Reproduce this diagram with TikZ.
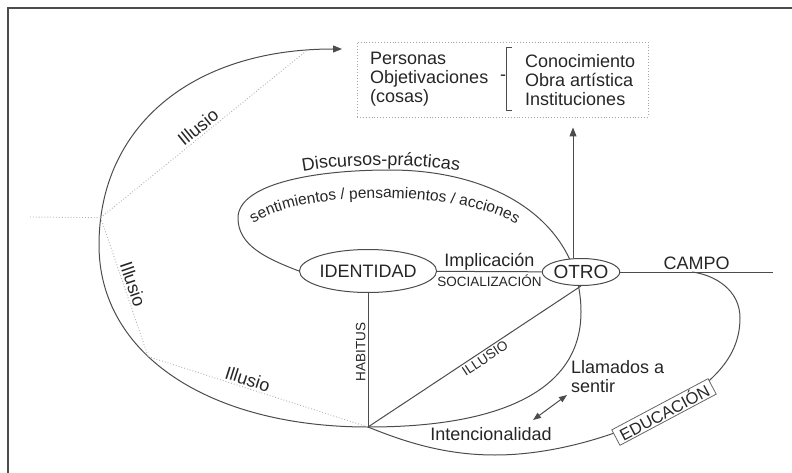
\documentclass[tikz,border=0pt]{standalone}
\usepackage{fontspec}
\setmainfont{Liberation Sans}
\usetikzlibrary{arrows.meta, shapes, decorations.text, backgrounds, positioning}

\begin{document}
\begin{tikzpicture}[x=1pt, y=-1pt,
    ln/.style={draw=black!70, line width=1pt},
    dot/.style={draw=black!30, dotted, line width=0.9pt},
    txt/.style={font=\fontsize{18}{19}\selectfont, text=black!85, inner sep=2pt},
    small/.style={font=\fontsize{13.5}{14}\selectfont, text=black!85, inner sep=2pt},
    oval/.style={ellipse, draw=black!70, line width=1pt, fill=white, inner sep=0pt, text=black!85},
    >={Triangle[length=9pt, width=7pt]}]
\useasboundingbox (0,0) rectangle (792,473);
\draw[black!70, line width=1.2pt] (8,473) -- (8,8) -- (792,8);

\node[oval, minimum width=127, minimum height=43, font=\fontsize{18}{19}\selectfont] (ident) at (368,271) {IDENTIDAD};
\node[oval, minimum width=75, minimum height=27, font=\fontsize{19}{20}\selectfont] (otro) at (581,272) {OTRO};
\node[draw=black!35, dotted, line width=0.9pt, minimum width=291, minimum height=75] (box) at (502.5,79.5) {};
\node[txt, align=left, anchor=west] (objs) at (368,79) {Personas\\Objetivaciones\\(cosas)};
\node[txt] (dash) at (503,78) {-};
\node[txt, align=left, anchor=west] (know) at (523,80) {Conocimiento\\Obra artística\\Instituciones};
\draw[black!70, line width=0.8pt] (512,47) -- (506,47) -- (506,110) -- (512,110);
\node[draw=black!60, line width=0.8pt, fill=white, rotate=28, font=\fontsize{16.5}{17}\selectfont, text=black!85, inner xsep=5pt, inner ysep=1.5pt] (edu) at (664,412) {EDUCACIÓN};
\node[txt, align=left, anchor=west] (llam) at (569,377) {Llamados a\\sentir};
\node[txt] (int) at (491,434) {Intencionalidad};

\coordinate (b) at (368,427);
\coordinate (tip) at (342,49);
\coordinate (lft) at (30,217);
\coordinate (campoend) at (773,272);
\coordinate (up) at ([xshift=-8pt]otro.north);
\coordinate (ia) at (533,420);
\coordinate (ib) at (567,395);

\draw[ln] (ident) -- node[txt, above, inner sep=1pt] {Implicación} node[small, below, inner sep=2.5pt] {SOCIALIZACIÓN} (otro);
\draw[ln] (otro) -- node[txt, above] {CAMPO} coordinate[pos=0.47] (cp) (campoend);
\draw[ln] (b) -- node[small, sloped, above, pos=0.56] {HABITUS} (ident);
\draw[ln] (b) -- node[small, sloped, below, pos=0.53] {ILLUSIO} (otro.south);
\draw[ln, ->, shorten >=10pt] (up) -- (up |- box.south);
\draw[ln, <->, >={Triangle[length=8pt, width=6pt]}] (ia) -- (ib);

\begin{scope}[on background layer]
\draw[ln] (ident.west) .. controls (265,258) and (238,245) .. (238,218)
  .. controls (238,185) and (310,170) .. (390,170)
  .. controls (500,170) and (581,225) .. (581,312)
  .. controls (581,420) and (430,427) .. (b);
\draw[ln, ->] (b) .. controls (210,427) and (99,355) .. coordinate[pos=0.6] (i2) (99,245)
  .. controls (99,128) and (190,49) .. coordinate[pos=0.08] (i1) coordinate[pos=0.92] (i3) (tip);
\draw[ln] (b) .. controls (405,442) and (445,455) .. (495,455)
  .. controls (550,455) and (612,438) .. (edu.center)
  .. controls (705,388) and (740,362) .. (740,318)
  .. controls (740,290) and (715,275) .. (cp);
\end{scope}

\draw[dot] (lft) -- (i1);
\draw[dot] (i1) -- node[txt, sloped, above] {Illusio} (i3);
\draw[dot] (i1) -- node[txt, sloped, above] {Illusio} (i2);
\draw[dot] (i2) -- node[txt, sloped, above, pos=0.44] {Illusio} (b);

\path[decorate, decoration={text along path, text align=center, text color=black!85,
    text={|\fontsize{18}{19}\selectfont|Discursos-prácticas}}]
    (296,173) .. controls (340,163) and (420,163) .. (466,172);
\path[decorate, decoration={text along path, text align=center, text color=black!85,
    text={|\fontsize{15.5}{16}\selectfont|sentimientos / pensamientos / acciones}}]
    (248,228) .. controls (290,188) and (470,188) .. (522,228);
\end{tikzpicture}
\end{document}
